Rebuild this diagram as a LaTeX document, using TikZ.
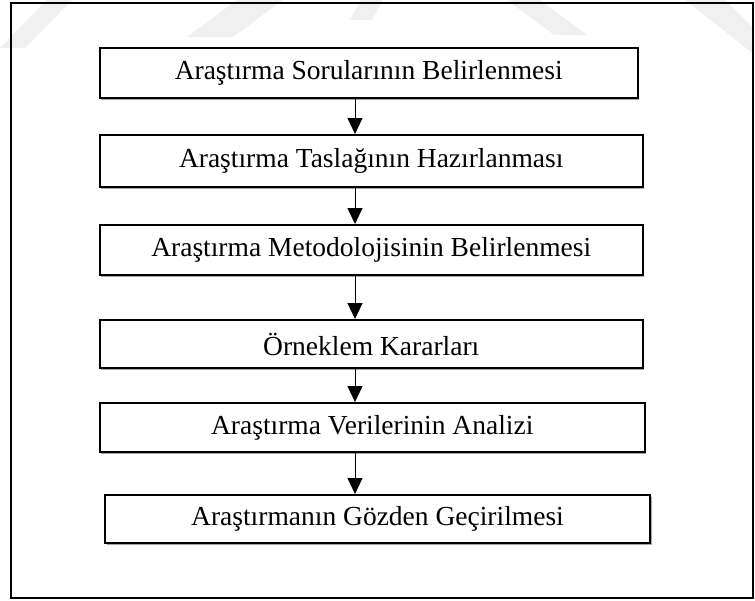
\documentclass[tikz,border=0pt]{standalone}
\usepackage{fontspec}
\setmainfont{Liberation Serif}
\usetikzlibrary{arrows.meta,shadows}
\begin{document}
\begin{tikzpicture}[x=1pt,y=-1pt,
  stepbox/.style={draw=black,line width=2pt,inner sep=0pt,fill=white,
    drop shadow={shadow xshift=1.5pt,shadow yshift=-1.5pt,fill=black!35,opacity=1},
    font=\fontsize{27.5}{31}\selectfont},
  flow/.style={line width=1pt,-{Triangle[width=15pt,length=16pt]}}]
\useasboundingbox (0,0) rectangle (755,600);
% faint diagonal bands along the top edge
\fill[black!6] (0,48) -- (25,48) -- (72,0) -- (47,0) -- cycle;
\fill[black!6] (187,37) -- (233,37) -- (283,0) -- (237,0) -- cycle;
\fill[black!6] (350,20) -- (372,20) -- (383,0) -- (361,0) -- cycle;
\fill[black!6] (507,0) -- (540,0) -- (587,35) -- (554,35) -- cycle;
\fill[black!6] (685,0) -- (725,0) -- (755,30) -- (755,55) -- cycle;
% outer frame
\draw[line width=2pt] (11,3) rectangle (753,598);
% process steps
\node[stepbox,minimum width=538pt,minimum height=50pt] (s1) at (368.75,73) {Araştırma Sorularının Belirlenmesi};
\node[stepbox,minimum width=543pt,minimum height=52pt] (s2) at (371.25,161) {Araştırma Taslağının Hazırlanması};
\node[stepbox,minimum width=543pt,minimum height=50pt] (s3) at (371.25,250) {Araştırma Metodolojisinin Belirlenmesi};
\node[stepbox,minimum width=543pt,minimum height=48pt] (s4) at (371.25,344) {Örneklem Kararları};
\node[stepbox,minimum width=545pt,minimum height=49pt] (s5) at (372.25,427.5) {Araştırma Verilerinin Analizi};
\node[stepbox,minimum width=545pt,minimum height=48pt] (s6) at (377.5,519) {Araştırmanın Gözden Geçirilmesi};
\coordinate (ax) at (355,0);
\foreach \a/\b in {s1/s2,s2/s3,s3/s4,s4/s5,s5/s6}
  \draw[flow] (\a.south -| ax) -- (\b.north -| ax);
\end{tikzpicture}
\end{document}
